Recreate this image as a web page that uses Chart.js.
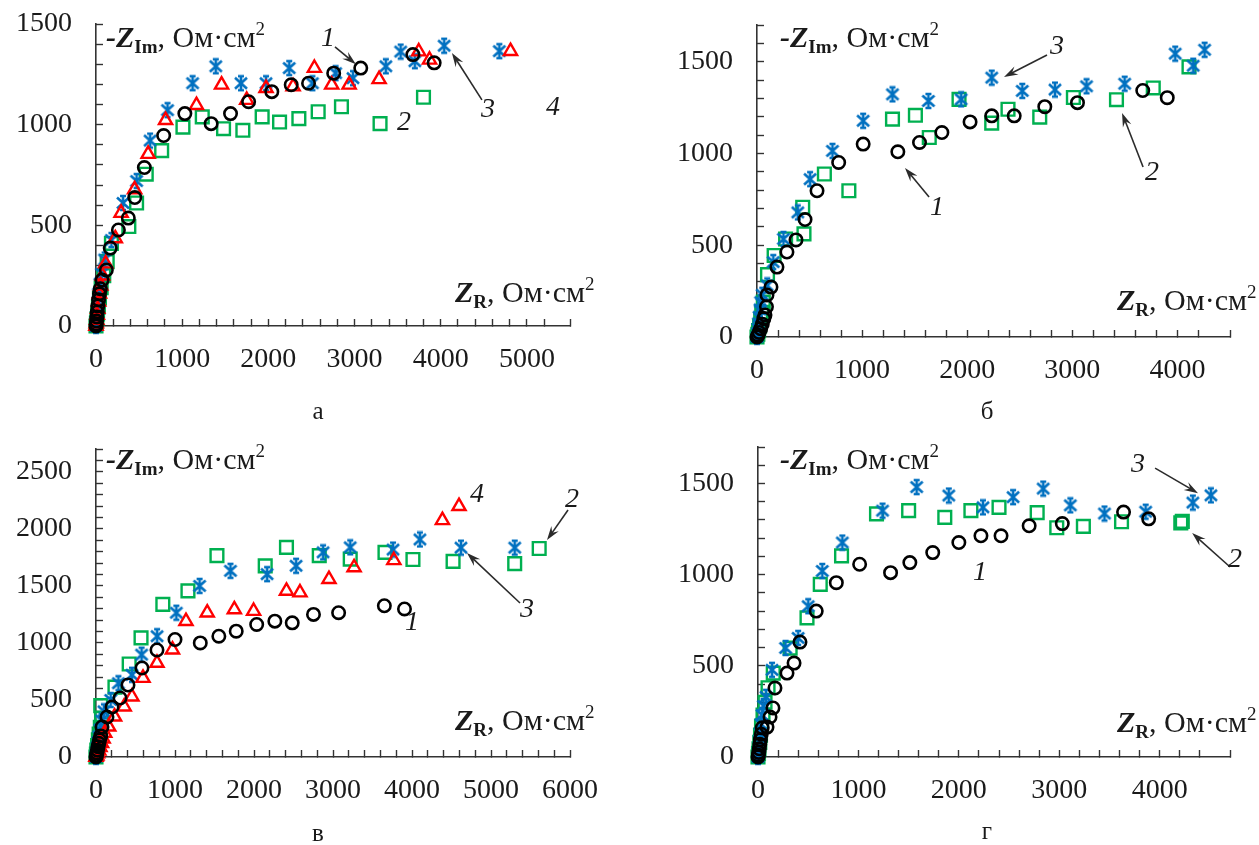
<!DOCTYPE html>
<html lang="ru">
<head>
<meta charset="utf-8">
<title>Годографы импеданса</title>
<script src="https://cdn.jsdelivr.net/npm/chart.js@4.4.1/dist/chart.umd.min.js"></script>
<style>
  html, body { margin: 0; padding: 0; background: #fff; }
  #page { position: relative; width: 1259px; height: 845px; overflow: hidden;
          font-family: "Liberation Serif", "Times New Roman", serif; color: #1a1a1a; }
  canvas { position: absolute; }
  .ttl { position: absolute; font-size: 30px; line-height: 30px; white-space: nowrap; z-index: 2; }
  .ttl b { font-style: italic; }
  .sub { font-size: 19px; font-weight: bold; position: relative; top: 6px; }
  .sup { font-size: 19px; position: relative; top: -12px; }
  .let { position: absolute; width: 40px; text-align: center; font-size: 25px; line-height: 25px; z-index: 2; }
</style>
</head>
<body>
<div id="page">
  <canvas id="ca" width="600" height="400" style="left:0;top:0"></canvas>
  <canvas id="cb" width="639" height="400" style="left:620px;top:0"></canvas>
  <canvas id="cv" width="610" height="425" style="left:0;top:420px"></canvas>
  <canvas id="cg" width="639" height="425" style="left:620px;top:420px"></canvas>

  <div class="ttl" style="left:106px;top:22px"><b>-Z</b><span class="sub">Im</span>, Ом·см<span class="sup">2</span></div>
  <div class="ttl" style="left:455px;top:277px"><b>Z</b><span class="sub">R</span>, Ом·см<span class="sup">2</span></div>
  <div class="ttl" style="left:780px;top:22px"><b>-Z</b><span class="sub">Im</span>, Ом·см<span class="sup">2</span></div>
  <div class="ttl" style="left:1117px;top:285px"><b>Z</b><span class="sub">R</span>, Ом·см<span class="sup">2</span></div>
  <div class="ttl" style="left:106px;top:444px"><b>-Z</b><span class="sub">Im</span>, Ом·см<span class="sup">2</span></div>
  <div class="ttl" style="left:455px;top:705px"><b>Z</b><span class="sub">R</span>, Ом·см<span class="sup">2</span></div>
  <div class="ttl" style="left:780px;top:444px"><b>-Z</b><span class="sub">Im</span>, Ом·см<span class="sup">2</span></div>
  <div class="ttl" style="left:1117px;top:707px"><b>Z</b><span class="sub">R</span>, Ом·см<span class="sup">2</span></div>

  <div class="let" style="left:298px;top:398px">а</div>
  <div class="let" style="left:967px;top:398px">б</div>
  <div class="let" style="left:298px;top:820px">в</div>
  <div class="let" style="left:967px;top:818px">г</div>
</div>
<script>
// ===== данные: пары [Z_R, -Z_Im], Ом·см2 =====
// 1 — круги, 2 — квадраты, 3 — звёздочки, 4 — треугольники

// --- панель а ---
const a1 = [[0,0],[3,10],[6,25],[10,45],[15,70],[22,100],[30,130],[40,160],[50,185],[70,228],[120,278],[165,387],[260,477],[375,536],[450,638],[561,787],[785,946],[1031,1055],[1336,1005],[1561,1055],[1771,1114],[2040,1164],[2265,1198],[2466,1206],[2758,1256],[3072,1281],[3677,1348],[3924,1307]];
const a2 = [[0,0],[5,15],[10,35],[18,60],[28,95],[40,140],[60,190],[90,250],[130,320],[179,410],[381,494],[471,611],[583,754],[762,871],[1009,988],[1233,1039],[1480,980],[1704,972],[1928,1039],[2130,1013],[2354,1030],[2578,1064],[2848,1089],[3296,1005],[3800,1136]];
const a3 = [[0,0],[5,20],[10,45],[15,80],[22,120],[30,160],[45,210],[65,260],[100,330],[179,427],[314,611],[471,720],[628,921],[830,1072],[1121,1206],[1390,1290],[1682,1206],[1973,1206],[2242,1281],[2511,1206],[2780,1256],[2982,1231],[3363,1290],[3535,1363],[3700,1315],[4040,1392],[4680,1365]];
const a4 = [[0,0],[4,12],[8,30],[14,55],[20,85],[30,120],[40,160],[55,200],[75,250],[112,310],[224,435],[291,561],[448,678],[605,854],[807,1022],[1166,1097],[1457,1198],[1749,1122],[1973,1181],[2287,1189],[2534,1281],[2735,1198],[2937,1198],[3285,1225],[3745,1363],[3870,1322],[4810,1365]];

// --- панель б ---
const b1 = [[0,0],[10,10],[20,25],[35,45],[50,70],[65,100],[76,120],[90,165],[95,229],[133,272],[190,381],[285,463],[371,529],[457,640],[571,797],[777,951],[1010,1051],[1340,1009],[1546,1060],[1759,1114],[2027,1172],[2233,1205],[2447,1205],[2738,1255],[3049,1277],[3670,1343],[3903,1304]];
const b2 = [[0,0],[8,15],[15,35],[25,60],[35,95],[45,135],[60,190],[100,340],[163,444],[272,534],[447,562],[435,707],[641,888],[874,797],[1289,1187],[1507,1208],[1639,1087],[1922,1295],[2233,1165],[2388,1241],[2690,1198],[3010,1305],[3420,1293],[3770,1357],[4110,1472]];
const b3 = [[0,0],[5,20],[10,45],[15,75],[20,110],[28,150],[35,190],[50,230],[97,281],[155,408],[252,534],[388,679],[505,860],[718,1014],[1010,1178],[1289,1322],[1631,1286],[1942,1295],[2233,1413],[2524,1341],[2835,1348],[3135,1366],[3498,1380],[3979,1544],[4150,1478],[4258,1565]];

// --- панель в ---
const c1 = [[0,0],[5,15],[10,35],[18,60],[26,90],[35,120],[45,150],[60,185],[76,263],[139,351],[203,438],[304,517],[405,631],[582,780],[772,938],[1000,1030],[1320,1000],[1555,1059],[1775,1103],[2034,1162],[2264,1191],[2484,1176],[2753,1250],[3071,1265],[3650,1326],[3905,1298]];
const c2 = [[0,0],[5,25],[10,60],[20,100],[30,150],[40,200],[55,260],[70,340],[60,450],[240,613],[420,815],[570,1044],[846,1338],[1164,1456],[1531,1765],[2142,1676],[2411,1838],[2826,1765],[3218,1735],[3658,1794],[4012,1731],[4520,1715],[5300,1695],[5610,1828]];
const c3 = [[0,0],[5,20],[10,50],[15,85],[25,130],[35,180],[50,240],[70,320],[100,400],[186,500],[284,647],[455,721],[577,897],[773,1059],[1017,1265],[1311,1500],[1702,1632],[2166,1603],[2533,1676],[2875,1794],[3218,1838],[3760,1818],[4100,1907],[4620,1835],[5300,1835]];
const c4 = [[0,0],[10,10],[20,30],[35,55],[50,85],[70,120],[90,160],[110,210],[161,265],[235,353],[357,441],[455,529],[595,692],[772,824],[968,941],[1139,1191],[1408,1265],[1751,1294],[1995,1279],[2411,1456],[2582,1441],[2949,1559],[3267,1662],[3770,1724],[4385,2075],[4595,2198]];

// --- панель г ---
const d1 = [[0,0],[4,10],[8,25],[13,45],[18,70],[24,95],[32,125],[42,160],[90,164],[120,219],[149,269],[169,378],[289,460],[359,515],[418,630],[580,800],[780,956],[1012,1057],[1320,1011],[1512,1066],[1740,1121],[2000,1176],[2220,1213],[2420,1213],[2700,1268],[3030,1280],[3640,1343],[3890,1306]];
const d2 = [[0,0],[5,20],[10,45],[18,80],[25,120],[35,170],[50,230],[70,300],[100,380],[152,460],[320,597],[488,763],[620,947],[832,1103],[1180,1333],[1500,1351],[1860,1314],[2120,1351],[2400,1369],[2780,1340],[2975,1257],[3240,1265],[3620,1290],[4210,1284],[4225,1292]];
const d3 = [[0,0],[5,25],[10,55],[15,90],[22,130],[30,180],[40,230],[55,280],[80,330],[140,478],[275,598],[400,653],[500,827],[640,1020],[840,1176],[1240,1351],[1580,1480],[1900,1434],[2240,1369],[2540,1425],[2840,1472],[3110,1380],[3450,1335],[3860,1345],[4330,1395],[4510,1435]];

// подписи кривых [текст, Z_R, -Z_Im] и стрелки [от Z_R, от -Z_Im, к Z_R, к -Z_Im]
const aLabels = [['1',2691,1425],['2',3573,1008],['3',4548,1073],['4',5302,1083]];
const aArrows = [[2773,1386,3016,1300],[4478,1123,4130,1356]];
const bLabels = [['3',2854,1580],['1',1713,703],['2',3758,894]];
const bArrows = [[2759,1537,2350,1417],[1637,763,1408,921],[3673,926,3473,1221]];
const cLabels = [['1',4000,1174],['4',4823,2296],['2',6025,2252],['3',5456,1288]];
const cArrows = [[5975,2165,5709,1902],[5367,1350,4696,1788]];
const dLabels = [['1',2211,1009],['3',3785,1601],['2',4751,1080]];
const dArrows = [[3954,1584,4382,1447],[4701,1042,4323,1228]];

// ===== маркер «ж» для кривой 3 =====
function makeStar() {
    const c = document.createElement('canvas');
    c.width = 18; c.height = 18;
    const g = c.getContext('2d');
    g.strokeStyle = '#0070C0';
    g.lineWidth = 2.6;
    g.beginPath();
    g.moveTo(3, 3.5); g.lineTo(15, 14.5);
    g.moveTo(15, 3.5); g.lineTo(3, 14.5);
    g.moveTo(9, 1.5); g.lineTo(9, 16.5);
    g.moveTo(6, 2); g.lineTo(12, 2);
    g.moveTo(6, 16); g.lineTo(12, 16);
    g.stroke();
    return c;
}
const starImg = makeStar();

const looks = {
    1: { pointStyle: 'circle', color: '#000000', radius: 6.2, width: 2.6 },
    2: { pointStyle: 'rect', color: '#00B050', radius: 9, width: 2.4 },
    3: { pointStyle: starImg, color: '#0070C0', radius: 9, width: 1 },
    4: { pointStyle: 'triangle', color: '#FF0000', radius: 7.6, width: 2.4 }
};

function makeSet(num, pts) {
    const l = looks[num];
    return {
        label: String(num),
        data: pts.map(([x, y]) => ({ x, y })),
        pointStyle: l.pointStyle,
        pointRadius: l.radius,
        pointBorderWidth: l.width,
        pointBorderColor: l.color,
        pointBackgroundColor: 'rgba(0,0,0,0)',
        showLine: false,
        clip: false
    };
}

// ===== подписи и стрелки поверх точек =====
const notesPlugin = {
    id: 'notes',
    afterDatasetsDraw(chart, args, opts) {
        const { ctx } = chart;
        const sx = chart.scales.x, sy = chart.scales.y;
        ctx.save();
        ctx.strokeStyle = '#2b2b2b';
        ctx.fillStyle = '#2b2b2b';
        ctx.lineWidth = 1.6;
        (opts.arrows || []).forEach(([x1, y1, x2, y2]) => {
            const ax = sx.getPixelForValue(x1), ay = sy.getPixelForValue(y1);
            const bx = sx.getPixelForValue(x2), by = sy.getPixelForValue(y2);
            const ang = Math.atan2(by - ay, bx - ax);
            const cs = Math.cos(ang), sn = Math.sin(ang);
            const len = 14, half = 4.5;
            const hx = bx - cs * len, hy = by - sn * len;
            ctx.beginPath();
            ctx.moveTo(ax, ay);
            ctx.lineTo(bx - cs * 6, by - sn * 6);
            ctx.stroke();
            ctx.beginPath();
            ctx.moveTo(bx, by);
            ctx.lineTo(hx - sn * half, hy + cs * half);
            ctx.lineTo(bx - cs * (len - 5), by - sn * (len - 5));
            ctx.lineTo(hx + sn * half, hy - cs * half);
            ctx.closePath();
            ctx.fill();
        });
        ctx.font = 'italic 28px "Liberation Serif"';
        ctx.textAlign = 'center';
        ctx.textBaseline = 'middle';
        ctx.fillStyle = '#1a1a1a';
        (opts.labels || []).forEach(([t, vx, vy]) => {
            ctx.fillText(t, sx.getPixelForValue(vx), sy.getPixelForValue(vy));
        });
        ctx.restore();
    }
};

const tickFont = { family: 'Liberation Serif', size: 28, lineHeight: 1.2 };

// оси фиксированной толщины, без добавочных полей от подписей
function fixAxis(s, size) {
    if (s.isHorizontal()) s.height = size; else s.width = size;
    s.paddingTop = 0; s.paddingBottom = 0;
    s.paddingLeft = 0; s.paddingRight = 0;
}

function drawPanel(id, sets, box, labels, arrows) {
    new Chart(document.getElementById(id), {
        type: 'scatter',
        data: { datasets: sets },
        plugins: [notesPlugin],
        options: {
            responsive: false,
            animation: false,
            events: [],
            layout: { padding: { left: 0, right: box.padR, top: box.padT, bottom: 0 } },
            plugins: {
                legend: { display: false },
                tooltip: { enabled: false },
                notes: { labels, arrows }
            },
            scales: {
                x: {
                    type: 'linear', min: 0, max: box.xMax,
                    afterFit: (s) => fixAxis(s, box.xH),
                    border: { display: true, color: '#333', width: 1.6 },
                    grid: { drawOnChartArea: false, drawTicks: true, tickLength: -7, tickColor: '#333', tickWidth: 1.4 },
                    ticks: {
                        stepSize: 200, autoSkip: false, maxRotation: 0, minRotation: 0,
                        padding: 24, color: '#1a1a1a', font: tickFont,
                        callback: (v) => Math.round(v) % 1000 === 0 ? String(Math.round(v)) : ''
                    }
                },
                y: {
                    type: 'linear', min: 0, max: box.yMax,
                    afterFit: (s) => fixAxis(s, box.yW),
                    border: { display: true, color: '#333', width: 1.6 },
                    grid: { drawOnChartArea: false, drawTicks: true, tickLength: -7, tickColor: '#333', tickWidth: 1.4 },
                    ticks: {
                        stepSize: 100, autoSkip: false,
                        padding: 31, color: '#1a1a1a', font: tickFont,
                        callback: (v) => Math.round(v) % 500 === 0 ? String(Math.round(v)) : ''
                    }
                }
            }
        }
    });
}

// порядок: круги сверху, затем треугольники, звёздочки, квадраты
drawPanel('ca', [makeSet(1, a1), makeSet(4, a4), makeSet(3, a3), makeSet(2, a2)],
    { padR: 30, padT: 24, xH: 74, yW: 96, xMax: 5500, yMax: 1500 }, aLabels, aArrows);
drawPanel('cb', [makeSet(1, b1), makeSet(3, b3), makeSet(2, b2)],
    { padR: 29, padT: 25, xH: 63, yW: 137, xMax: 4500, yMax: 1700 }, bLabels, bArrows);
drawPanel('cv', [makeSet(1, c1), makeSet(4, c4), makeSet(3, c3), makeSet(2, c2)],
    { padR: 40, padT: 29, xH: 88, yW: 96, xMax: 6000, yMax: 2700 }, cLabels, cArrows);
drawPanel('cg', [makeSet(1, d1), makeSet(3, d3), makeSet(2, d2)],
    { padR: 29, padT: 27, xH: 88, yW: 138, xMax: 4700, yMax: 1700 }, dLabels, dArrows);
</script>
</body>
</html>
